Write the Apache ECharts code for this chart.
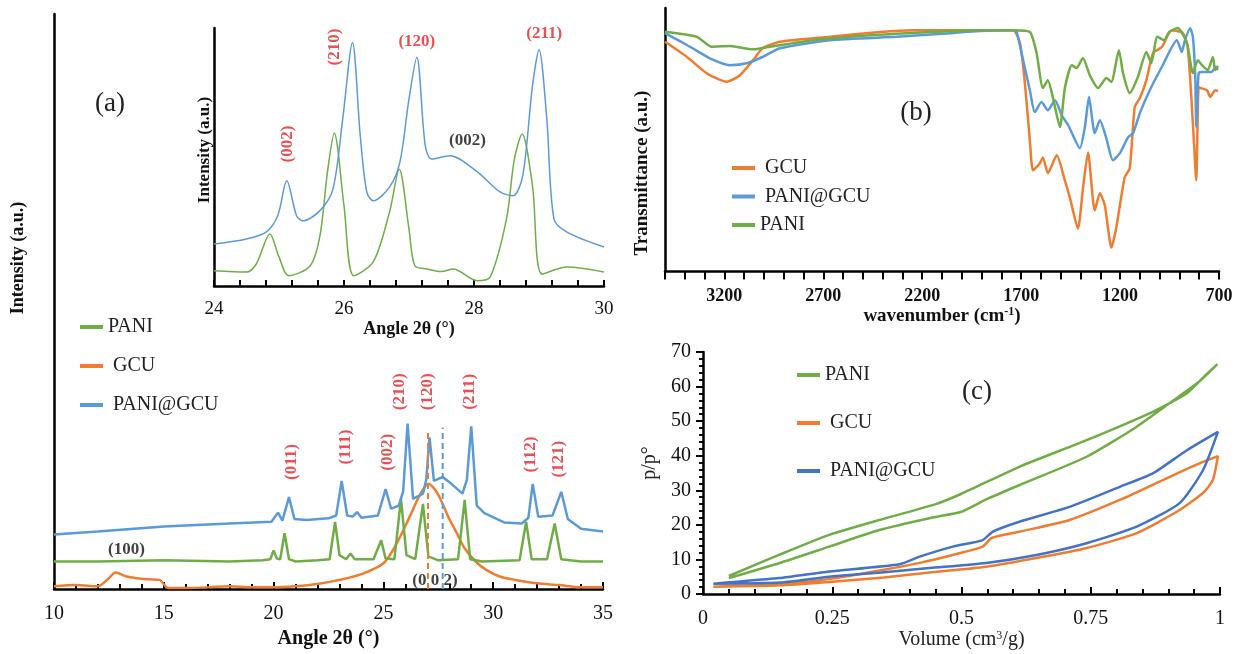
<!DOCTYPE html>
<html><head><meta charset="utf-8">
<script src="https://cdn.jsdelivr.net/npm/echarts@6/dist/echarts.min.js"></script>
<style>html,body{margin:0;padding:0;background:#fff}#c{width:1236px;height:654px}</style>
</head><body><div id="c"></div>
<script>
// ---------- (a) main XRD: [2θ, intensity a.u.] ----------
const xrdGCU = [[10,0.5],[11,0.7],[12,0.5],[12.5,1.9],[12.8,2.9],[13.3,2.2],[13.8,1.9],[14.3,1.7],[14.8,1.6],[15.2,0.2],[16,0.2],[17,0.3],[18,0.5],[19,0.3],[20,0.3],[21,0.5],[22,0.9],[23,1.6],[24,2.6],[25,4.5],[25.6,7.9],[26.2,12.6],[26.65,16.3],[27.05,18.3],[27.4,17.0],[27.7,14.8],[28.0,12.2],[28.35,9.7],[28.7,7.1],[29.2,4.8],[29.7,3.3],[30.3,2.2],[31,1.6],[32,1.0],[33,0.7],[34,0.3],[35,0.3]];
const xrdPANI = [[10,4.8],[12,4.8],[15,5.0],[18,4.8],[19.5,5.0],[19.85,5.2],[20.0,6.7],[20.15,5.3],[20.3,5.2],[20.5,9.7],[20.7,5.2],[21,4.8],[22,5.0],[22.55,5.2],[22.8,11.7],[23.0,5.9],[23.3,5.2],[23.5,6.2],[23.7,5.2],[24.55,5.2],[24.9,8.5],[25.1,5.3],[25.5,5.2],[25.8,15.7],[26.05,5.9],[26.45,5.2],[26.8,14.8],[27.05,5.7],[27.5,5.0],[28.4,5.2],[28.7,15.5],[28.95,5.2],[29.5,4.8],[31.2,5.0],[31.5,11.7],[31.75,5.2],[32.45,5.2],[32.8,11.4],[33.1,5.2],[34,4.8],[35,4.8]];
const xrdPANIGCU = [[10,9.5],[12,10.0],[15,10.9],[18,11.4],[19.9,11.7],[20.2,13.3],[20.4,11.9],[20.7,16.0],[20.95,12.2],[21.5,12.0],[22.5,12.3],[22.85,12.8],[23.1,18.8],[23.35,12.8],[23.6,12.6],[23.8,13.4],[24.0,12.4],[24.75,12.8],[25.1,17.4],[25.35,14.0],[25.7,14.5],[25.9,17.0],[26.1,28.8],[26.35,15.7],[26.8,16.6],[26.95,19.0],[27.1,26.4],[27.3,18.8],[27.7,19.5],[28.1,18.3],[28.6,16.6],[28.8,19.0],[29.0,28.3],[29.25,14.5],[29.6,13.2],[30.5,11.6],[31.3,11.4],[31.6,12.4],[31.8,18.3],[32.05,12.6],[32.7,12.8],[33.1,16.9],[33.4,12.2],[34,10.5],[35,10.0]];
const dashGCU = [[27.03,0],[27.03,27.8]];
const dashPANIGCU = [[27.7,0],[27.7,28.1]];
const mainHklText = ['(011)','(111)','(002)','(210)','(120)','(211)','(112)','(121)'];
const mainHklX = [20.8,23.3,25.18,25.76,27.03,28.94,31.7,33.0];
const mainHklY = [22.1,24.7,23.8,34.3,34.3,34.3,23.4,22.6];
const mainBlackText = ['(100)','(0 0 2)'];
const mainBlackX = [13.3,27.35];
const mainBlackY = [6.9,1.4];

// ---------- (a) inset XRD ----------
const insetPANI = [[24,6.0],[24.5,5.5],[24.65,8.7],[24.86,20.6],[25.0,11.5],[25.15,4.1],[25.48,8.0],[25.63,19.9],[25.75,46.0],[25.85,60.5],[26.0,31.7],[26.15,4.1],[26.45,9.5],[26.7,29.2],[26.85,46.2],[27.0,22.5],[27.09,8.0],[27.28,6.7],[27.5,5.7],[27.68,6.7],[28.05,2.1],[28.25,3.6],[28.5,26.5],[28.62,50.0],[28.74,60.1],[28.9,39.6],[29.05,4.7],[29.43,7.5],[30,5.5]];
const insetPANIGCU = [[24,16.6],[24.5,18.6],[24.8,21.3],[24.98,27.8],[25.12,41.6],[25.27,27.8],[25.37,25.8],[25.63,29.8],[25.83,38.3],[25.98,66.0],[26.13,96.3],[26.25,59.4],[26.35,37.2],[26.45,33.7],[26.7,39.1],[26.86,49.0],[27.0,74.0],[27.12,90.4],[27.25,55.5],[27.35,50.2],[27.63,51.5],[28.05,45.1],[28.4,37.2],[28.6,35.7],[28.75,43.6],[28.9,79.2],[29.0,93.4],[29.12,66.0],[29.23,26.5],[29.43,21.3],[30,15.4]];
const insetRotText = ['(002)','(210)'];
const insetRotX = [25.14,25.86];
const insetRotY = [56.1,94.5];
const insetHorText = ['(120)','(211)'];
const insetHorX = [27.12,29.08];
const insetHorY = [96.8,99.6];
const insetBlackText = ['(002)'];
const insetBlackX = [27.9];
const insetBlackY = [57.3];

// ---------- (b) FTIR: [wavenumber, transmittance a.u.] ----------
const ftirGCU = [[3500,87.2],[3390,81.5],[3289,75.2],[3188,72.0],[3121,74.5],[3055,80.2],[3005,84.8],[2919,87.2],[2666,89.1],[2414,90.9],[2247,91.6],[1908,91.6],[1740,91.6],[1706,86.7],[1681,71.5],[1656,49.8],[1640,38.4],[1605,41.1],[1590,43.3],[1565,37.3],[1520,44.1],[1479,34.6],[1454,28.1],[1413,16.3],[1387,31.9],[1362,45.2],[1328,23.2],[1302,29.7],[1277,25.1],[1244,9.1],[1219,16.7],[1177,35.7],[1151,39.2],[1126,62.4],[1100,65.8],[1067,72.6],[1033,82.9],[989,85.2],[939,91.6],[883,90.5],[858,85.2],[832,56.3],[815,34.6],[803,70.0],[792,69.6],[761,68.8],[744,66.2],[719,68.8],[705,68.5]];
const ftirPANIGCU = [[3500,90.5],[3374,85.3],[3273,80.9],[3171,78.3],[3087,79.0],[3005,81.5],[2919,84.7],[2666,87.8],[2330,89.1],[2100,90.2],[1908,91.3],[1740,91.6],[1723,90.9],[1690,80.2],[1656,68.8],[1631,60.5],[1597,64.3],[1565,61.2],[1529,65.0],[1495,59.3],[1462,55.5],[1403,46.8],[1378,54.8],[1357,66.2],[1328,52.5],[1302,57.4],[1271,51.0],[1236,42.2],[1201,44.9],[1159,51.0],[1134,52.5],[1100,60.1],[1050,68.8],[989,77.6],[913,87.8],[888,83.3],[872,87.8],[846,92.3],[832,89.0],[820,73.8],[815,54.8],[803,75.3],[786,75.7],[736,75.7],[719,77.6],[705,76.5]];
const ftirPANI = [[3500,91.0],[3340,89.1],[3264,85.3],[3171,85.6],[3055,84.3],[2970,85.3],[2752,87.8],[2499,89.5],[2161,90.9],[1908,91.6],[1740,91.6],[1656,90.9],[1622,82.9],[1590,69.6],[1565,72.6],[1540,66.2],[1504,54.8],[1479,69.6],[1444,78.3],[1420,77.2],[1388,81.0],[1353,74.5],[1311,69.6],[1269,73.4],[1244,71.9],[1206,84.0],[1185,75.3],[1151,67.7],[1110,73.8],[1067,83.3],[1042,79.1],[1012,89.1],[977,87.8],[952,90.9],[908,92.4],[862,86.7],[832,75.3],[807,80.2],[786,78.3],[757,76.4],[731,81.4],[719,76.4],[705,78.0]];

// ---------- (c) isotherm loops: [volume, p/p°] ----------
const betPANI = [[0.05,4.6],[0.147,8.9],[0.244,13.7],[0.341,18.5],[0.44,22.0],[0.5,23.8],[0.55,27.5],[0.612,31.5],[0.742,39.7],[0.839,48.4],[0.919,57.0],[0.96,61.5],[0.995,66.5],[0.97,63.0],[0.936,58.1],[0.87,52.7],[0.742,44.5],[0.612,36.8],[0.5,29.0],[0.45,26.0],[0.341,21.4],[0.244,17.1],[0.147,11.3],[0.05,5.2]];
const betGCU = [[0.02,2.1],[0.15,2.5],[0.244,3.5],[0.35,4.8],[0.438,6.2],[0.548,7.9],[0.645,10.4],[0.742,13.3],[0.839,17.6],[0.922,24.3],[0.967,29.2],[0.986,32.9],[0.996,39.9],[0.967,38.2],[0.903,33.9],[0.806,27.2],[0.709,21.4],[0.612,18.0],[0.558,16.2],[0.541,13.7],[0.483,11.3],[0.419,9.0],[0.35,7.0],[0.244,4.3],[0.15,3.0],[0.02,2.1]];
const betPANIGCU = [[0.02,3.0],[0.15,3.3],[0.244,5.0],[0.345,6.2],[0.438,7.5],[0.548,9.0],[0.645,11.3],[0.742,14.7],[0.839,19.5],[0.922,26.3],[0.967,35.8],[0.996,46.9],[0.936,41.6],[0.87,34.9],[0.806,31.0],[0.709,25.2],[0.612,20.9],[0.56,18.0],[0.541,15.6],[0.483,13.7],[0.419,10.8],[0.38,8.6],[0.244,6.5],[0.147,4.6],[0.05,3.4],[0.02,3.0]];

const FONT = 'Liberation Serif';
const C_PANI = '#70ad47', C_GCU = '#ed7d31', C_PG = '#5b9bd5', C_PG2 = '#4472c4', C_RED = '#e0262b';

function zip(xs, ys, ts) { return xs.map((x, i) => ({ value: [x, ys[i]], name: ts[i] })); }
function line(name, data, color, width, xi, extra) {
  return Object.assign({ type: 'line', name, data, xAxisIndex: xi, yAxisIndex: xi, symbol: 'none', showSymbol: false,
    lineStyle: { color, width }, itemStyle: { color }, silent: true }, extra || {});
}
function labels(data, xi, color, rotate, size) {
  return { type: 'scatter', xAxisIndex: xi, yAxisIndex: xi, data, symbolSize: 1, silent: true,
    itemStyle: { color: 'rgba(0,0,0,0)' }, z: 10,
    label: { show: true, position: 'inside', formatter: '{b}', rotate: rotate, color,
      fontFamily: FONT, fontWeight: 'bold', fontSize: size, align: 'center', verticalAlign: 'middle' } };
}
const axisLine = () => ({ show: true, lineStyle: { color: '#000', width: 2.5 } });
const tick = (inside, length, width) => ({ show: true, inside: inside, length: length, lineStyle: { color: '#000', width: width } });
const minor = (split, length, width) => ({ show: true, splitNumber: split, length: length, lineStyle: { color: '#000', width: width } });
const labelStyle = (size, bold, margin) => ({ show: true, fontFamily: FONT, fontSize: size, fontWeight: bold ? 'bold' : 'normal', color: '#111', margin: margin });
const legendFmt = n => (n === 'PANI' ? n : ' ' + n);
const legendItem = (name, color) => ({ name, itemStyle: { color, borderWidth: 0, borderColor: color } });
const legendBase = () => ({ orient: 'vertical', icon: 'rect', itemWidth: 23, itemHeight: 4, selectedMode: false,
  formatter: legendFmt, textStyle: { fontFamily: FONT, fontSize: 20, color: '#222', lineHeight: 20 } });
const supStyle = (bold) => ({ fontFamily: FONT, fontSize: 12, fontWeight: bold ? 'bold' : 'normal', verticalAlign: 'top', lineHeight: 12, padding: [0, 0, 8, 0] });
const hiddenY = (i, max) => ({ type: 'value', gridIndex: i, min: 0, max: max, axisLine: axisLine(), axisTick: { show: false }, axisLabel: { show: false }, splitLine: { show: false } });
// tick-only overlay axes (same scales as the labelled axes)
const tickX = (i, min, max, interval, inside, len, minorSplit, inverse) => ({
  type: 'value', gridIndex: i, position: 'bottom', min: min, max: max, interval: interval, inverse: !!inverse,
  axisLine: { show: false }, axisLabel: { show: false }, splitLine: { show: false },
  axisTick: tick(inside, len, 2),
  minorTick: minorSplit ? minor(minorSplit, len - 2, 2) : { show: false }
});

const option = {
  animation: false,
  backgroundColor: '#fff',
  grid: [
    { left: 54, top: 14, width: 549, height: 583 },
    { left: 214, top: 28, width: 390, height: 258 },
    { left: 665, top: 8, width: 554, height: 263.5 },
    { left: 703, top: 352, width: 517, height: 242 }
  ],
  xAxis: [
    { type: 'value', gridIndex: 0, position: 'bottom', min: 10, max: 35, interval: 5, axisLine: axisLine(),
      axisTick: tick(true, 7, 2), minorTick: minor(5, 5, 2),
      splitLine: { show: false }, axisLabel: labelStyle(20, false, 15),
      name: 'Angle 2θ (°)', nameLocation: 'middle', nameGap: 35,
      nameTextStyle: { fontFamily: FONT, fontSize: 20, fontWeight: 'bold', color: '#111' } },
    { type: 'value', gridIndex: 1, position: 'bottom', min: 24, max: 30, interval: 2, axisLine: axisLine(),
      axisTick: tick(true, 6, 2), minorTick: minor(5, 6, 2),
      splitLine: { show: false }, axisLabel: labelStyle(19, false, 14),
      name: 'Angle 2θ (°)', nameLocation: 'middle', nameGap: 33,
      nameTextStyle: { fontFamily: FONT, fontSize: 18, fontWeight: 'bold', color: '#111' } },
    { type: 'value', gridIndex: 2, position: 'bottom', min: 700, max: 3500, interval: 100, inverse: true, axisLine: axisLine(),
      axisTick: tick(false, 8, 2),
      splitLine: { show: false },
      axisLabel: Object.assign(labelStyle(18, true, 16), { showMaxLabel: false, hideOverlap: false,
        formatter: v => (Math.round(v - 700) % 500 === 0 ? String(Math.round(v)) : '') }),
      name: 'wavenumber (cm{sup|-1})', nameLocation: 'middle', nameGap: 34,
      nameTextStyle: { fontFamily: FONT, fontSize: 19, fontWeight: 'bold', color: '#111', rich: { sup: supStyle(true) } } },
    { type: 'value', gridIndex: 3, position: 'bottom', min: 0, max: 1, interval: 0.25, axisLine: axisLine(),
      axisTick: tick(true, 7, 2), minorTick: minor(5, 5, 2),
      splitLine: { show: false }, axisLabel: labelStyle(20, false, 15),
      name: 'Volume (cm{sup|3}/g)', nameLocation: 'middle', nameGap: 32,
      nameTextStyle: { fontFamily: FONT, fontSize: 20, color: '#222', rich: { sup: supStyle(false) } } },
    tickX(0, 10, 35, 5, true, 7, 5),
    tickX(1, 24, 30, 2, true, 6, 5),
    tickX(2, 700, 3500, 100, false, 8, 0, true),
    tickX(3, 0, 1, 0.25, true, 7, 5)
  ],
  yAxis: [
    hiddenY(0, 100),
    hiddenY(1, 102),
    hiddenY(2, 100),
    { type: 'value', gridIndex: 3, position: 'left', min: 0, max: 70, interval: 10, axisLine: axisLine(),
      axisTick: tick(false, 7, 2), minorTick: minor(5, 4, 1.5),
      splitLine: { show: false }, axisLabel: labelStyle(20, false, 12) },
    { type: 'value', gridIndex: 3, position: 'left', min: 0, max: 70, interval: 10,
      axisLine: { show: false }, axisLabel: { show: false }, splitLine: { show: false },
      axisTick: tick(false, 7, 2), minorTick: minor(5, 4, 1.5) }
  ],
  legend: [
    Object.assign(legendBase(), { left: 75, top: 312, itemGap: 19,
      data: [legendItem('PANI', C_PANI), legendItem('GCU', C_GCU), legendItem('PANI@GCU', C_PG)] }),
    Object.assign(legendBase(), { left: 727, top: 153, itemGap: 8.5,
      data: [legendItem('GCU', C_GCU), legendItem('PANI@GCU', C_PG), legendItem('PANI', C_PANI)] }),
    Object.assign(legendBase(), { left: 792, top: 360, itemGap: 28,
      data: [legendItem('PANI', C_PANI), legendItem('GCU', C_GCU), legendItem('PANI@GCU', C_PG2)] })
  ],
  graphic: [
    { type: 'text', x: 110, y: 104, style: { text: '(a)', fontFamily: FONT, fontSize: 27, fill: '#222', align: 'center', verticalAlign: 'middle' } },
    { type: 'text', x: 916, y: 113, style: { text: '(b)', fontFamily: FONT, fontSize: 27, fill: '#222', align: 'center', verticalAlign: 'middle' } },
    { type: 'text', x: 977, y: 392, style: { text: '(c)', fontFamily: FONT, fontSize: 27, fill: '#222', align: 'center', verticalAlign: 'middle' } },
    { type: 'text', x: 18, y: 258, rotation: Math.PI / 2, style: { text: 'Intensity (a.u.)', fontFamily: FONT, fontSize: 18, fontWeight: 'bold', fill: '#111', align: 'center', verticalAlign: 'middle' } },
    { type: 'text', x: 205, y: 150, rotation: Math.PI / 2, style: { text: 'Intensity (a.u.)', fontFamily: FONT, fontSize: 17, fontWeight: 'bold', fill: '#111', align: 'center', verticalAlign: 'middle' } },
    { type: 'text', x: 642, y: 173, rotation: Math.PI / 2, style: { text: 'Transmittance (a.u.)', fontFamily: FONT, fontSize: 19, fontWeight: 'bold', fill: '#111', align: 'center', verticalAlign: 'middle' } },
    { type: 'text', x: 650, y: 463, rotation: Math.PI / 2, style: { text: 'p/p°', fontFamily: FONT, fontSize: 20, fill: '#222', align: 'center', verticalAlign: 'middle' } }
  ],
  series: [
    // (a) main
    line('GCU', xrdGCU, C_GCU, 2.5, 0, { smooth: 0.3 }),
    line('PANI', xrdPANI, C_PANI, 2.5, 0),
    line('PANI@GCU', xrdPANIGCU, C_PG, 2.5, 0),
    line('GCU (002) line', dashGCU, C_GCU, 2, 0, { lineStyle: { color: C_GCU, width: 2, type: [6, 4] } }),
    line('PANI@GCU (002) line', dashPANIGCU, C_PG, 2, 0, { lineStyle: { color: C_PG, width: 2, type: [6, 4] } }),
    labels(zip(mainHklX, mainHklY, mainHklText), 0, C_RED, 90, 17),
    labels(zip(mainBlackX, mainBlackY, mainBlackText), 0, '#111', 0, 17),
    // (a) inset
    line('PANI', insetPANI, C_PANI, 1.5, 1, { smooth: 0.3 }),
    line('PANI@GCU', insetPANIGCU, C_PG, 1.5, 1, { smooth: 0.3 }),
    labels(zip(insetRotX, insetRotY, insetRotText), 1, C_RED, 90, 17),
    labels(zip(insetHorX, insetHorY, insetHorText), 1, C_RED, 0, 17),
    labels(zip(insetBlackX, insetBlackY, insetBlackText), 1, '#111', 0, 17),
    // (b)
    line('GCU', ftirGCU, C_GCU, 2.5, 2, { smooth: 0.2 }),
    line('PANI@GCU', ftirPANIGCU, C_PG, 2.5, 2, { smooth: 0.2 }),
    line('PANI', ftirPANI, C_PANI, 2.5, 2, { smooth: 0.2 }),
    // (c)
    line('PANI', betPANI, C_PANI, 2.5, 3, { smooth: 0.2 }),
    line('GCU', betGCU, C_GCU, 2.5, 3, { smooth: 0.2 }),
    line('PANI@GCU', betPANIGCU, C_PG2, 2.5, 3, { smooth: 0.2 })
  ]
};
echarts.init(document.getElementById('c')).setOption(option);
</script>
</body></html>
